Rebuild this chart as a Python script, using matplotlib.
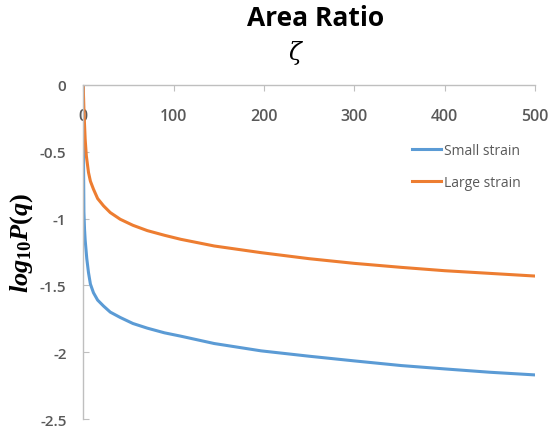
import matplotlib.pyplot as plt

plt.rcParams['mathtext.fontset'] = 'custom'
plt.rcParams['mathtext.it'] = 'Liberation Serif:italic:bold'
plt.rcParams['mathtext.rm'] = 'Liberation Serif:bold'

# values
zeta_small = [0, 0.3, 0.8, 1.5, 2.2, 4, 5.9, 8, 11.4, 16, 22.6, 30, 41, 55, 71, 90,
              108, 145, 197, 250, 300, 352, 400, 450, 500]
logp_small = [0, -0.5, -0.95, -1.08, -1.16, -1.3, -1.405, -1.49, -1.555, -1.61, -1.655,
              -1.70, -1.74, -1.785, -1.82, -1.855, -1.88, -1.935, -1.99, -2.03, -2.065,
              -2.10, -2.125, -2.15, -2.17]
zeta_large = [0, 1, 2.2, 3.5, 5.9, 8, 11.4, 16, 22.6, 30, 41, 55, 71, 90, 108, 145, 197,
              250, 300, 352, 400, 450, 500]
logp_large = [0, -0.22, -0.405, -0.53, -0.655, -0.72, -0.78, -0.85, -0.905, -0.955,
              -1.005, -1.05, -1.09, -1.125, -1.155, -1.205, -1.255, -1.30, -1.335, -1.365,
              -1.39, -1.41, -1.43]
x_ticks = [0, 100, 200, 300, 400, 500]
y_ticks = [0, -0.5, -1, -1.5, -2, -2.5]
y_labels = ['0', '-0.5', '-1', '-1.5', '-2', '-2.5']

grey = '#595959'
fig = plt.figure(figsize=(5.49, 4.31), dpi=100)
ax = fig.add_axes([0.1515, 0.0255, 0.823, 0.775])

ax.plot(zeta_small, logp_small, color='#5B9BD5', lw=2.2, label='Small strain')
ax.plot(zeta_large, logp_large, color='#ED7D31', lw=2.2, label='Large strain')

ax.set_xlim(0, 500)
ax.set_ylim(-2.5, 0)
ax.set_xticks(x_ticks)
ax.set_yticks(y_ticks)
ax.set_yticklabels(y_labels)

for s in ['bottom', 'right']:
    ax.spines[s].set_visible(False)
for s in ['top', 'left']:
    ax.spines[s].set_color('#BFBFBF')
    ax.spines[s].set_linewidth(1)

ax.tick_params(axis='x', top=True, bottom=False, labeltop=True, labelbottom=False,
               direction='in', length=4, color='#BFBFBF', pad=-28,
               labelsize=11.5, labelcolor=grey)
ax.tick_params(axis='y', direction='in', length=4, color='#BFBFBF', pad=12,
               labelsize=11, labelcolor=grey)
for lab in ax.get_xticklabels() + ax.get_yticklabels():
    lab.set_fontfamily('Open Sans')
    lab.set_fontweight('semibold')

leg = ax.legend(loc='center left', bbox_to_anchor=(0.727, 0.756), frameon=False,
                borderaxespad=0, borderpad=0, handlelength=2.1, handletextpad=0.2,
                labelspacing=1.2, prop={'family': 'Open Sans', 'size': 10})
for t in leg.get_texts():
    t.set_color(grey)

fig.text(316 / 549, 1 - 19 / 431, 'Area Ratio', ha='center', va='center',
         fontsize=19, fontweight='bold', family='Open Sans')
fig.text(295 / 549, 1 - 53 / 431, 'ζ', ha='center', va='center', fontsize=17,
         family='DejaVu Serif', style='italic')
fig.text(22 / 549, 1 - 243 / 431, r'$log_{10}P(q)$', rotation=90, ha='center',
         va='center', fontsize=19)

fig.savefig('out.png', dpi=100)
